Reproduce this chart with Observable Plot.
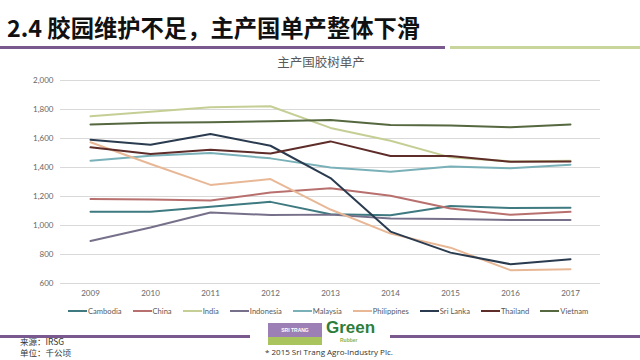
<!DOCTYPE html>
<html>
<head>
<meta charset="utf-8">
<script src="https://cdn.jsdelivr.net/npm/d3@7"></script>
<script src="https://cdn.jsdelivr.net/npm/@observablehq/plot@0.6"></script>
<style>
  html, body { margin: 0; padding: 0; background: #fff; }
  #page { position: relative; width: 640px; height: 360px; overflow: hidden; background: #fff;
          font-family: "Noto Sans CJK SC", "Noto Sans", sans-serif; }
  .abs { position: absolute; }
  #legend { position: absolute; left: 68px; top: 305px; display: flex; gap: 11px;
            font: 7.6px Lato, "Open Sans", sans-serif; color: #595959; white-space: nowrap; line-height: 12px; }
  #legend .item { display: flex; align-items: center; gap: 1px; }
  #legend .sw { width: 19px; height: 2px; }
</style>
</head>
<body>
<div id="page">
  <div class="abs" style="left:7px;top:14px;font-weight:bold;font-size:23.3px;line-height:26px;color:#111;white-space:nowrap;">2.4 胶园维护不足，主产国单产整体下滑</div>
  <div class="abs" style="left:0;top:46px;width:445px;height:3px;background:#7a5a8e"></div>
  <div class="abs" style="left:450px;top:46px;width:190px;height:3px;background:#c8d69c"></div>
  <div class="abs" style="left:0;top:54px;width:642px;text-align:center;font-size:12.5px;line-height:16px;color:#595959;">主产国胶树单产</div>
  <div id="chart" class="abs" style="left:0;top:70px"></div>
  <div id="legend"></div>
  <div class="abs" style="left:0;top:335px;width:250px;height:3px;background:#7a5a8e"></div>
  <div class="abs" style="left:390px;top:335px;width:250px;height:3px;background:#7a5a8e"></div>
  <div class="abs" style="left:268px;top:323px;width:54px;height:14px;background:#9b7fb5;color:#fff;font:bold 5px sans-serif;line-height:14px;text-align:center;">SRI TRANG</div>
  <div class="abs" style="left:268px;top:337px;width:54px;height:8px;background:#a9c45c"></div>
  <div class="abs" style="left:326px;top:318px;font:bold 17px 'Liberation Sans', sans-serif;color:#2e7d3a;line-height:20px;">Green</div>
  <div class="abs" style="left:340px;top:337px;font:bold 5px sans-serif;color:#8fb34a;">Rubber</div>
  <div class="abs" style="left:265px;top:347px;font-size:8px;line-height:10px;color:#333;font-family:'Open Sans',sans-serif;white-space:nowrap;">* 2015 Sri Trang Agro-Industry Plc.</div>
  <div class="abs" style="left:20px;top:336px;font-size:8.5px;line-height:11px;color:#333;white-space:nowrap;">来源：IRSG<br>单位：千公顷</div>
</div>
<script>
const years = ["2009","2010","2011","2012","2013","2014","2015","2016","2017"];
const countries = ["Cambodia","China","India","Indonesia","Malaysia","Philippines","Sri Lanka","Thailand","Vietnam"];
const colors = ["#3e7a80","#b8706e","#c5cf95","#77708a","#7ab1b9","#e8b896","#2a3b4f","#5e2d2a","#55683f"];
const yTicks = [600,800,1000,1200,1400,1600,1800,2000];

const cambodia    = [1095,1095,1130,1163,1078,1071,1135,1120,1123];
const china       = [1182,1180,1172,1228,1257,1205,1117,1074,1094];
const india       = [1753,1785,1815,1822,1673,1585,1470,1442,1447];
const indonesia   = [893,986,1090,1072,1075,1048,1045,1038,1038];
const malaysia    = [1447,1481,1500,1463,1400,1371,1407,1395,1419];
const philippines = [1574,1424,1280,1320,1110,944,847,692,698];
const sriLanka    = [1592,1557,1631,1550,1327,958,813,733,767];
const thailand    = [1539,1493,1523,1497,1580,1479,1479,1440,1441];
const vietnam     = [1696,1708,1712,1719,1728,1693,1690,1677,1696];

const series = [cambodia, china, india, indonesia, malaysia, philippines, sriLanka, thailand, vietnam];
const rows = [];
series.forEach((vals, i) => vals.forEach((v, j) => rows.push({country: countries[i], year: years[j], value: v})));

const chart = Plot.plot({
  width: 640,
  height: 230,
  marginLeft: 60,
  marginRight: 40,
  marginTop: 10,
  marginBottom: 17,
  style: {background: "transparent", fontSize: "8px", color: "#666", fontFamily: "Lato, 'Open Sans', sans-serif"},
  x: {type: "point", domain: years, padding: 0.5, label: null, tickSize: 0, tickPadding: 7},
  y: {domain: [600, 2000], ticks: yTicks, tickFormat: d3.format(","), label: null, tickSize: 0, tickPadding: 7},
  color: {domain: countries, range: colors},
  marks: [
    Plot.gridY(yTicks, {stroke: "#d9d9d9", strokeOpacity: 1}),
    Plot.line(rows, {x: "year", y: "value", z: "country", stroke: "country", strokeWidth: 2})
  ]
});
document.getElementById("chart").appendChild(chart);

const legend = document.getElementById("legend");
countries.forEach((c, i) => {
  const it = document.createElement("div");
  it.className = "item";
  const sw = document.createElement("span");
  sw.className = "sw";
  sw.style.background = colors[i];
  const tx = document.createElement("span");
  tx.textContent = c;
  it.appendChild(sw); it.appendChild(tx);
  legend.appendChild(it);
});
</script>
</body>
</html>
